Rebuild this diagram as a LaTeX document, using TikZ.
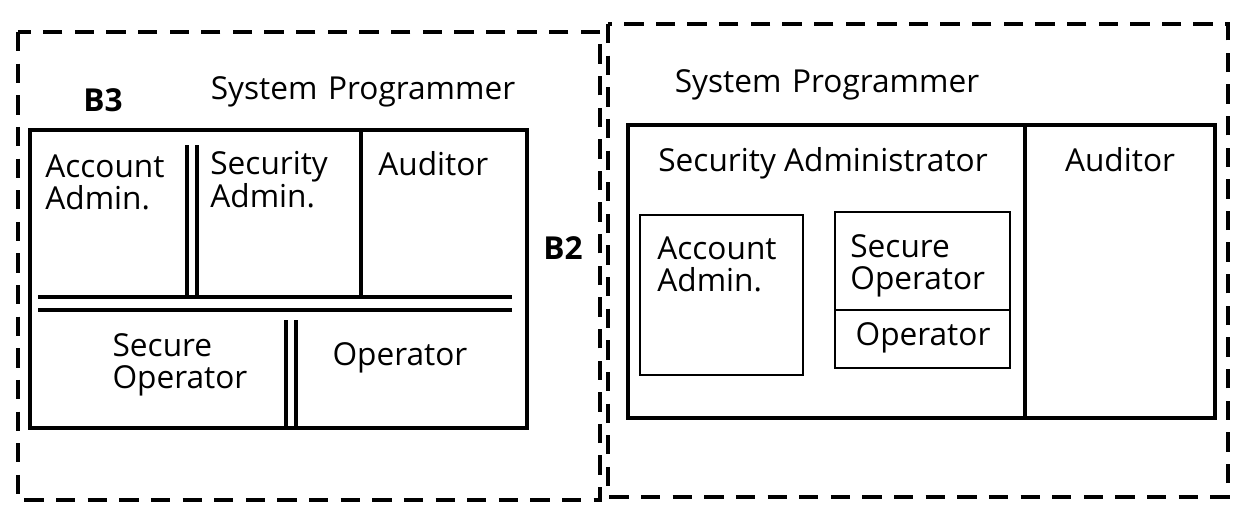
\documentclass[tikz,border=0pt]{standalone}
\usepackage{fontspec}
\setmainfont{Open Sans}
\usetikzlibrary{positioning, calc}
\tikzset{
	secdomain/.style={line width=2.3pt, dash pattern=on 11pt off 7pt},
	boxframe/.style={line width=1.9pt},
	wall/.style={line width=2.1pt},
	thinbox/.style={line width=0.9pt},
	role/.style={font=\fontsize{18}{18.5}\selectfont, align=left, inner sep=0pt},
	classmark/.style={font=\fontsize{18}{18.5}\selectfont\bfseries, inner sep=0pt},
}

\begin{document}
\begin{tikzpicture}[x=0.02cm, y=-0.02cm]
			\useasboundingbox (0,0) rectangle (1233,512);
			% B3 side
			\draw[secdomain] (18,32) rectangle (600,500);
			\node[classmark] (B3) at (103,100) {B3};
			\node[role] (SPL) at (363,92) {System\,\,Programmer};
			\draw[boxframe] (30,130) rectangle (527,428);
			\draw[wall] (187,145) -- (187,298);
			\draw[wall] (197,145) -- (197,298);
			\draw[wall] (361,130) -- (361,297);
			\draw[wall] (38,297) -- (512,297);
			\draw[wall] (38,310) -- (512,310);
			\draw[wall] (286,320) -- (286,428);
			\draw[wall] (296,320) -- (296,428);
			\node[role, anchor=north west] (AAL) at (45,154) {Account\\Admin.};
			\node[role, anchor=north west] (SAL) at (210,151) {Security\\Admin.};
			\node[role, anchor=north west] (AUL) at (378,151) {Auditor};
			\node[role] (SOL) at (180,365) {Secure\\Operator};
			\node[role] (OPL) at (400,358) {Operator};
			\node[classmark] (B2) at (563,248) {B2};
			
			% B2 side
			\draw[secdomain] (608,24) rectangle (1228,497);
			\node[role] (SPR) at (827,85) {System\,\,Programmer};
			\draw[boxframe] (628,125) rectangle (1215,418);
			\draw[boxframe] (1025,125) -- (1025,418);
			\node[role] (SAR) at (823,163) {Security Administrator};
			\node[role] (AUR) at (1120,160) {Auditor};
			\draw[thinbox] (640,215) rectangle (803,375);
			\node[role, anchor=north west] (AAR) at (657,236) {Account\\Admin.};
			\draw[thinbox] (835,212) rectangle (1010,368);
			\draw[thinbox] (835,310) -- (1010,310);
			\node[role, anchor=north west] (SOR) at (850,234) {Secure\\Operator};
			\node[role] (OPR) at (923,338) {Operator};
		\end{tikzpicture}
\end{document}
